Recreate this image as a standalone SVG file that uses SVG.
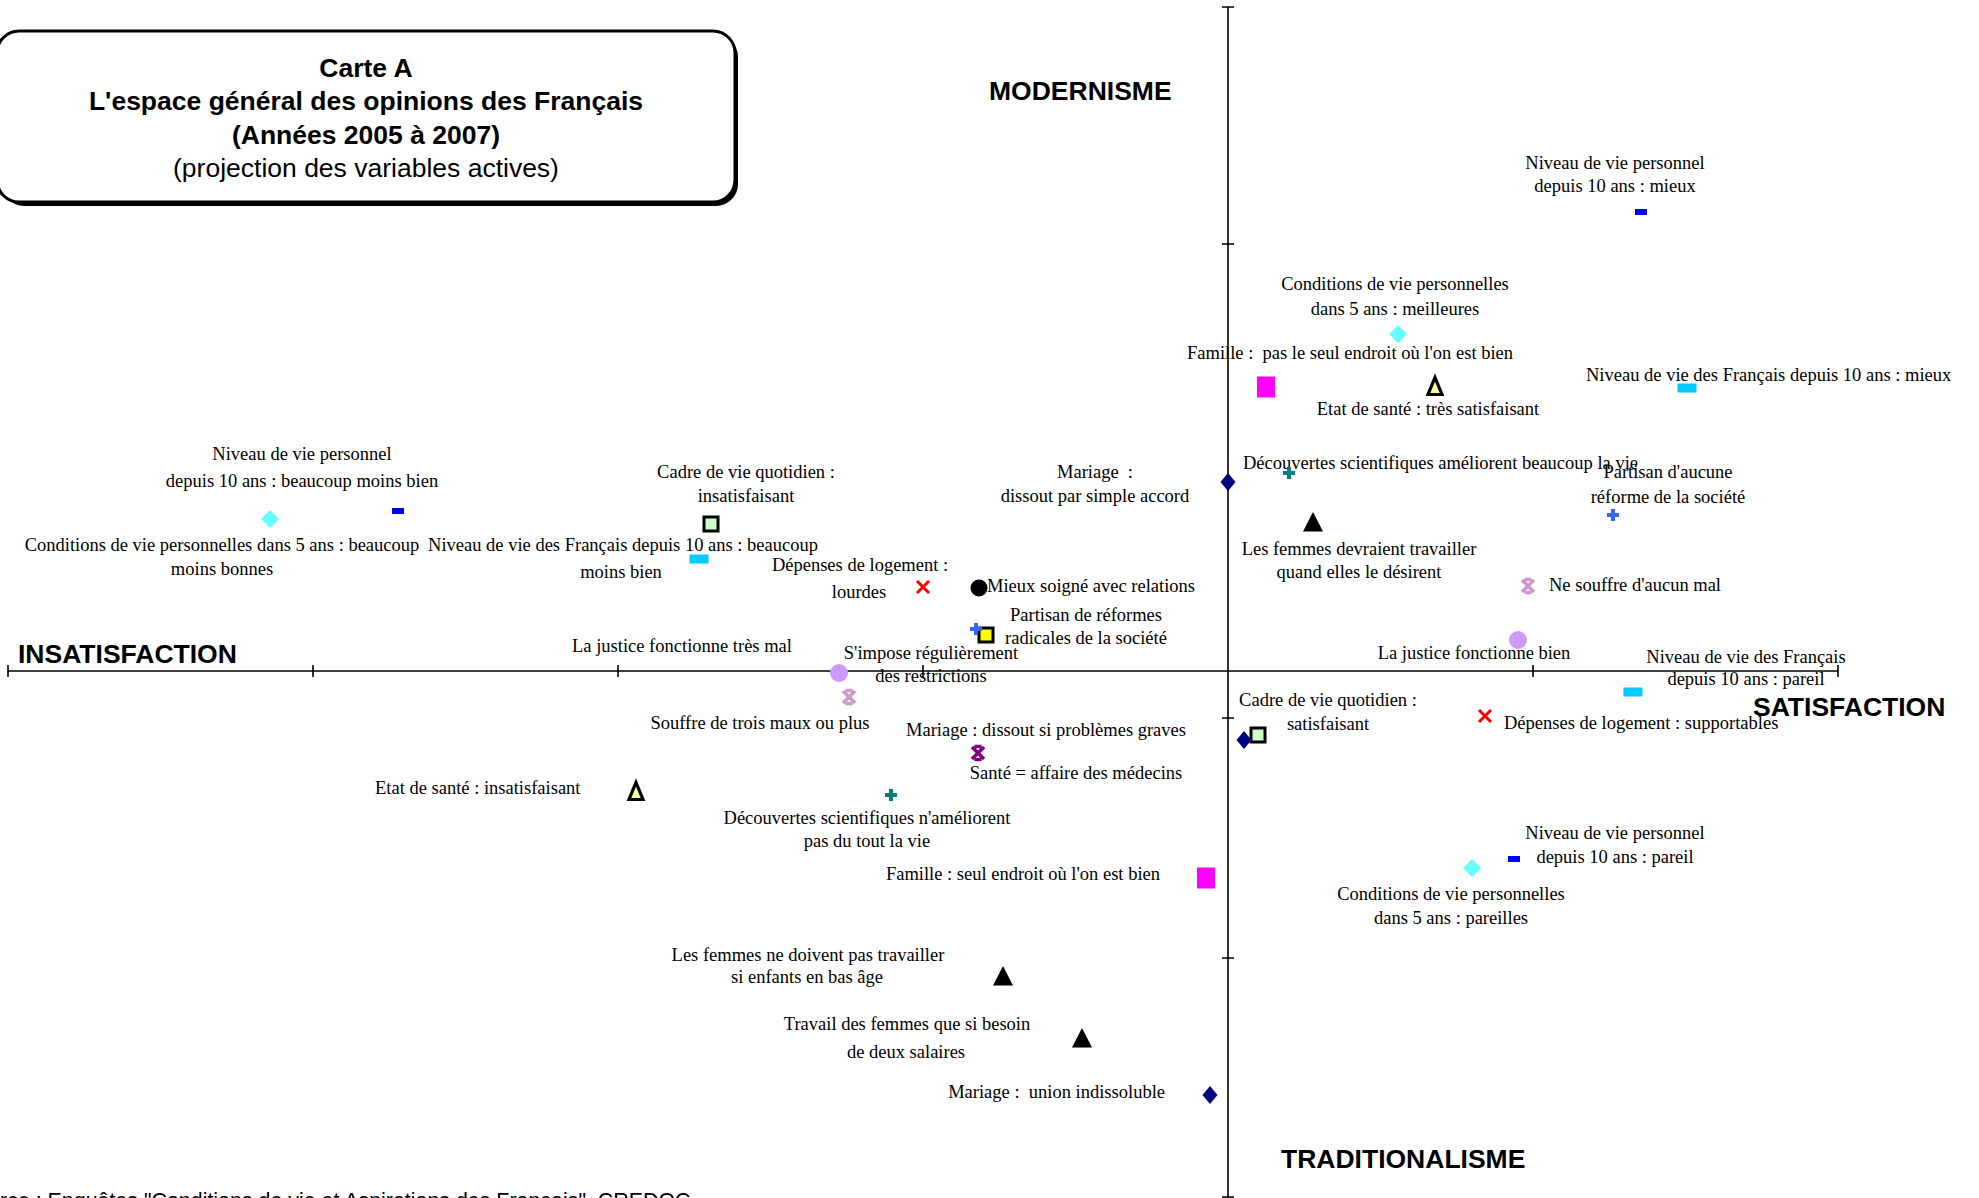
<svg xmlns="http://www.w3.org/2000/svg" xmlns:xlink="http://www.w3.org/1999/xlink" width="1979" height="1198" viewBox="0 0 1979 1198">
<style>
.lbl{font-family:"Liberation Serif","Times New Roman",serif;font-size:18.5px;fill:#000}
.c{text-anchor:middle}
.e{text-anchor:end}
.ttl{font-family:"Liberation Sans",Arial,sans-serif;font-size:26.5px;fill:#000;text-anchor:middle}
.b{font-weight:bold}
.ax{font-family:"Liberation Sans",Arial,sans-serif;font-size:26.5px;font-weight:bold;fill:#000}
.src{font-family:"Liberation Sans",Arial,sans-serif;font-size:21.4px;fill:#000}
.axis{stroke:#000;stroke-width:1.6;fill:none}
</style>
<defs>
<rect id="mBlue" x="-6" y="-3" width="12" height="6" fill="#0000FF"/>
<rect id="mCyanRect" x="-9.5" y="-4.5" width="19" height="9" fill="#00CCFF"/>
<polygon id="mCyanDia" points="0,-9 9,0 0,9 -9,0" fill="#66FFFF"/>
<polygon id="mNavyDia" points="0,-9 7.5,0 0,9 -7.5,0" fill="#000080"/>
<rect id="mMagenta" x="-9" y="-10.5" width="18" height="21" fill="#FF00FF"/>
<polygon id="mTriOut" points="0,-8.5 7,8.5 -7,8.5" fill="#FFFF99" stroke="#000" stroke-width="3.2" stroke-linejoin="miter"/>
<polygon id="mTriBlk" points="0,-10 10,9.5 -10,9.5" fill="#000"/>
<path id="mTealPlus" d="M-6,0H6M0,-6V6" stroke="#008080" stroke-width="4"/>
<path id="mBluePlus" d="M-6,0H6M0,-6V6" stroke="#3366FF" stroke-width="4"/>
<rect id="mGreenSq" x="-7" y="-7" width="14" height="14" fill="#CCFFCC" stroke="#000" stroke-width="3"/>
<rect id="mYellowSq" x="-7" y="-7" width="14" height="14" fill="#FFFF00" stroke="#000" stroke-width="3"/>
<path id="mRedX" d="M-6,-6L6,6M6,-6L-6,6" stroke="#FF0000" stroke-width="3"/>
<circle id="mBlkCirc" r="8.5" fill="#000"/>
<circle id="mLavCirc" r="9" fill="#CC99FF"/>
<path id="mStarLav" d="M-6,-6L6,6M6,-6L-6,6M-3.5,-6.5H3.5M-3.5,6.5H3.5" stroke="#CC99CC" stroke-width="3.5"/>
<path id="mStarPur" d="M-6,-6L6,6M6,-6L-6,6M-3.5,-6.5H3.5M-3.5,6.5H3.5" stroke="#800080" stroke-width="3.5"/>
</defs>
<rect width="1979" height="1198" fill="#fff"/>

<g id="title">
<rect x="2" y="35" width="736" height="171" rx="22" fill="#000"/>
<rect x="-3" y="31" width="738" height="171" rx="22" fill="#fff" stroke="#000" stroke-width="3"/>
<text class="ttl b" x="366" y="77">Carte A</text>
<text class="ttl b" x="366" y="110">L'espace général des opinions des Français</text>
<text class="ttl b" x="366" y="144">(Années 2005 à 2007)</text>
<text class="ttl" x="366" y="177">(projection des variables actives)</text>
</g>

<g id="axes">
<line class="axis" x1="8" y1="671" x2="1838" y2="671"/>
<path class="axis" d="M8,665V677M313,665V677M618,665V677M923,665V677M1533,665V677M1838,665V677"/>
<line class="axis" x1="1228" y1="7" x2="1228" y2="1198"/>
<path class="axis" d="M1222,7H1234M1222,244H1234M1222,481H1234M1222,718H1234M1222,958H1234M1222,1197H1234"/>
<text class="ax" x="989" y="100">MODERNISME</text>
<text class="ax" x="18" y="663">INSATISFACTION</text>
<text class="ax" x="1753" y="716">SATISFACTION</text>
<text class="ax" x="1281" y="1168">TRADITIONALISME</text>
</g>

<g id="connectors"></g>

<g id="n1"><text class="lbl c" x="1615" y="169">Niveau de vie personnel</text><text class="lbl c" x="1615" y="192">depuis 10 ans : mieux</text><use href="#mBlue" x="1641" y="212"/></g>
<g id="n2"><text class="lbl c" x="1395" y="290">Conditions de vie personnelles</text><text class="lbl c" x="1395" y="315">dans 5 ans : meilleures</text><use href="#mCyanDia" x="1398" y="334"/></g>
<g id="n3"><text class="lbl c" x="1350" y="359" xml:space="preserve">Famille :  pas le seul endroit où l'on est bien</text><use href="#mMagenta" x="1266" y="387"/></g>
<g id="n4"><text class="lbl c" x="1428" y="415">Etat de santé : très satisfaisant</text><use href="#mTriOut" x="1435" y="386"/></g>
<g id="n5"><text class="lbl" x="1586" y="381">Niveau de vie des Français depuis 10 ans : mieux</text><use href="#mCyanRect" x="1687" y="388"/></g>
<g id="n6"><text class="lbl c" x="1095" y="478" xml:space="preserve">Mariage  :</text><text class="lbl c" x="1095" y="502">dissout par simple accord</text><use href="#mNavyDia" x="1228" y="482"/></g>
<g id="n7"><text class="lbl" x="1243" y="469">Découvertes scientifiques améliorent beaucoup la vie</text><use href="#mTealPlus" x="1289" y="473"/></g>
<g id="n8"><text class="lbl c" x="1668" y="478">Partisan d'aucune</text><text class="lbl c" x="1668" y="503">réforme de la société</text><use href="#mBluePlus" x="1613" y="515"/></g>
<g id="n9"><text class="lbl c" x="1359" y="555">Les femmes devraient travailler</text><text class="lbl c" x="1359" y="578">quand elles le désirent</text><use href="#mTriBlk" x="1313" y="522"/></g>
<g id="n10"><text class="lbl" x="1549" y="591">Ne souffre d'aucun mal</text><use href="#mStarLav" x="1528" y="586"/></g>
<g id="n11"><text class="lbl c" x="302" y="460">Niveau de vie personnel</text><text class="lbl c" x="302" y="487">depuis 10 ans : beaucoup moins bien</text><use href="#mBlue" x="398" y="511"/></g>
<g id="n12"><text class="lbl c" x="222" y="551">Conditions de vie personnelles dans 5 ans : beaucoup</text><text class="lbl c" x="222" y="575">moins bonnes</text><use href="#mCyanDia" x="270" y="519"/></g>
<g id="n13"><text class="lbl c" x="623" y="551">Niveau de vie des Français depuis 10 ans : beaucoup</text><text class="lbl c" x="621" y="578">moins bien</text><use href="#mCyanRect" x="699" y="559"/></g>
<g id="n14"><text class="lbl c" x="746" y="478">Cadre de vie quotidien :</text><text class="lbl c" x="746" y="502">insatisfaisant</text><use href="#mGreenSq" x="711" y="524"/></g>
<g id="n15"><text class="lbl c" x="860" y="571">Dépenses de logement :</text><text class="lbl c" x="859" y="598">lourdes</text><use href="#mRedX" x="923" y="587"/></g>
<g id="n16"><use href="#mBlkCirc" x="979" y="588"/><text class="lbl" x="987" y="592">Mieux soigné avec relations</text></g>
<g id="n17"><text class="lbl c" x="1086" y="621">Partisan de réformes</text><text class="lbl c" x="1086" y="644">radicales de la société</text><use href="#mYellowSq" x="986" y="635"/><use href="#mBluePlus" x="976" y="629"/></g>
<g id="n18"><text class="lbl c" x="682" y="652">La justice fonctionne très mal</text><use href="#mLavCirc" x="839" y="673"/></g>
<g id="n19"><text class="lbl c" x="931" y="659">S'impose régulièrement</text><text class="lbl c" x="931" y="682">des restrictions</text></g>
<g id="n20"><text class="lbl c" x="760" y="729">Souffre de trois maux ou plus</text><use href="#mStarLav" x="849" y="697"/></g>
<g id="n21"><text class="lbl c" x="1474" y="659">La justice fonctionne bien</text><use href="#mLavCirc" x="1518" y="640"/></g>
<g id="n22"><text class="lbl c" x="1746" y="663">Niveau de vie des Français</text><text class="lbl c" x="1746" y="685">depuis 10 ans : pareil</text><use href="#mCyanRect" x="1633" y="692"/></g>
<g id="n23"><text class="lbl c" x="1328" y="706">Cadre de vie quotidien :</text><text class="lbl c" x="1328" y="730">satisfaisant</text><use href="#mGreenSq" x="1258" y="735"/></g>
<g id="n24"><text class="lbl c" x="1046" y="736">Mariage : dissout si problèmes graves</text><use href="#mNavyDia" x="1244" y="740"/></g>
<g id="n25"><use href="#mRedX" x="1485" y="716"/><text class="lbl" x="1504" y="729">Dépenses de logement : supportables</text></g>
<g id="n26"><use href="#mStarPur" x="978" y="753"/><text class="lbl c" x="1076" y="779">Santé = affaire des médecins</text></g>
<g id="n27"><text class="lbl" x="375" y="794">Etat de santé : insatisfaisant</text><use href="#mTriOut" x="636" y="791"/></g>
<g id="n28"><use href="#mTealPlus" x="891" y="795"/><text class="lbl c" x="867" y="824">Découvertes scientifiques n'améliorent</text><text class="lbl c" x="867" y="847">pas du tout la vie</text></g>
<g id="n29"><text class="lbl c" x="1615" y="839">Niveau de vie personnel</text><text class="lbl c" x="1615" y="863">depuis 10 ans : pareil</text><use href="#mBlue" x="1514" y="859"/></g>
<g id="n30"><use href="#mCyanDia" x="1472" y="868"/><text class="lbl c" x="1451" y="900">Conditions de vie personnelles</text><text class="lbl c" x="1451" y="924">dans 5 ans : pareilles</text></g>
<g id="n31"><text class="lbl e" x="1160" y="880">Famille : seul endroit où l'on est bien</text><use href="#mMagenta" x="1206" y="878"/></g>
<g id="n32"><text class="lbl c" x="808" y="961">Les femmes ne doivent pas travailler</text><text class="lbl c" x="807" y="983">si enfants en bas âge</text><use href="#mTriBlk" x="1003" y="976"/></g>
<g id="n33"><text class="lbl c" x="907" y="1030">Travail des femmes que si besoin</text><text class="lbl c" x="906" y="1058">de deux salaires</text><use href="#mTriBlk" x="1082" y="1038"/></g>
<g id="n34"><text class="lbl e" x="1165" y="1098" xml:space="preserve">Mariage :  union indissoluble</text><use href="#mNavyDia" x="1210" y="1095"/></g>

<g id="source"><text class="src" x="-38" y="1208">Source : Enquêtes "Conditions de vie et Aspirations des Français", CREDOC</text></g>
</svg>
